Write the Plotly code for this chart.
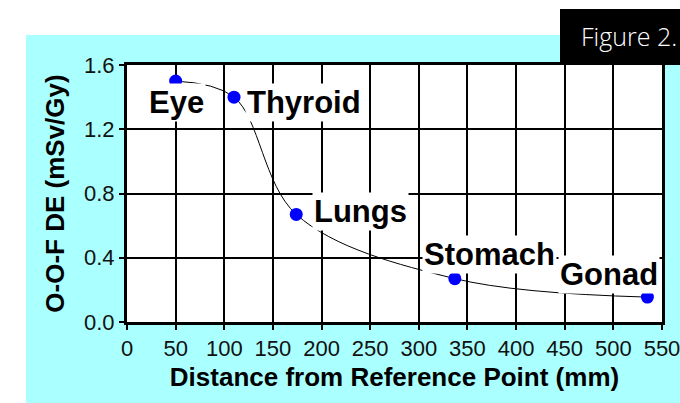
import plotly.graph_objects as go

# Data
organs = ["Eye", "Thyroid", "Lungs", "Stomach", "Gonad"]
distance_mm = [50, 110, 174, 337, 535]
dose_msv_per_gy = [1.50, 1.40, 0.67, 0.27, 0.155]

x_ticks = list(range(0, 551, 50))
y_ticks = [0.0, 0.4, 0.8, 1.2, 1.6]

# label offsets in pixels (xshift, yshift, xanchor)
label_offsets = {
    "Eye": (1, -21, "center"),
    "Thyroid": (11, -5, "left"),
    "Lungs": (16, 3, "left"),
    "Stomach": (35, 24, "center"),
    "Gonad": (-38, 23, "center"),
}

W, H = 680, 403
L, R, T, B = 127, 18, 65, 81
PW, PH = W - L - R, H - T - B

def px(xp):
    return (xp - L) / PW

def py(yp):
    return (H - B - yp) / PH

CYAN = "#AAFFFF"

fig = go.Figure()
fig.add_trace(go.Scatter(
    x=distance_mm, y=dose_msv_per_gy,
    mode="lines+markers",
    line=dict(color="black", width=1, shape="spline", smoothing=1.0),
    marker=dict(color="#0000FF", size=13, line=dict(width=0)),
    hoverinfo="skip", showlegend=False,
))

annotations = []
for name, xv, yv in zip(organs, distance_mm, dose_msv_per_gy):
    dx, dy, anc = label_offsets[name]
    annotations.append(dict(
        x=xv, y=yv, xref="x", yref="y", text=name, showarrow=False,
        xanchor=anc, yanchor="middle", xshift=dx, yshift=dy,
        font=dict(family="Liberation Sans, Arial, sans-serif", size=31, color="black", weight="bold"),
        bgcolor="white", borderpad=1,
    ))

annotations.append(dict(
    x=px(579), y=py(36), xref="paper", yref="paper", text="Figure 2.",
    showarrow=False, xanchor="left", yanchor="middle",
    font=dict(family="Open Sans, sans-serif", size=25, color="white", weight=300),
))

shapes = [
    # white strips outside the cyan panel
    dict(type="rect", xref="paper", yref="paper", x0=px(-5), x1=px(26), y0=py(H + 5), y1=py(-5),
         fillcolor="white", line=dict(width=0), layer="below"),
    dict(type="rect", xref="paper", yref="paper", x0=px(-5), x1=px(W + 5), y0=py(35), y1=py(-5),
         fillcolor="white", line=dict(width=0), layer="below"),
    # black figure caption box
    dict(type="rect", xref="paper", yref="paper", x0=px(560), x1=px(W + 10), y0=py(65), y1=py(9),
         fillcolor="black", line=dict(width=0), layer="above"),
]

axis_font = dict(family="Liberation Sans, Arial, sans-serif", size=22, color="#111")
title_font = dict(family="Liberation Sans, Arial, sans-serif", size=26, color="black", weight="bold")

fig.update_layout(
    width=W, height=H,
    margin=dict(l=L, r=R, t=T, b=B, pad=0, autoexpand=False),
    paper_bgcolor=CYAN, plot_bgcolor="white",
    xaxis=dict(
        range=[0, 550], tickvals=x_ticks, ticktext=[str(v) for v in x_ticks],
        showgrid=True, gridcolor="black", gridwidth=1.5,
        showline=True, linecolor="black", linewidth=3, mirror=True,
        ticks="outside", ticklen=5, tickwidth=2, tickcolor="black",
        tickfont=axis_font, zeroline=False, ticklabeloverflow="allow",
        automargin=False,
        title=dict(text="Distance from Reference Point (mm)", font=title_font, standoff=8),
    ),
    yaxis=dict(
        range=[0, 1.6], tickvals=y_ticks, ticktext=[f"{v:.1f}" for v in y_ticks],
        showgrid=True, gridcolor="black", gridwidth=1.5,
        showline=True, linecolor="black", linewidth=3, mirror=True,
        ticks="outside", ticklen=5, tickwidth=2, tickcolor="black",
        tickfont=axis_font, zeroline=False, automargin=False,
        title=dict(text="O-O-F DE (mSv/Gy)", font=title_font, standoff=12),
    ),
    annotations=annotations,
    shapes=shapes,
)

fig.write_html(
    "out.html",
    config={"displayModeBar": False},
    post_script="document.body.style.margin='0';document.body.style.overflow='hidden';",
)
